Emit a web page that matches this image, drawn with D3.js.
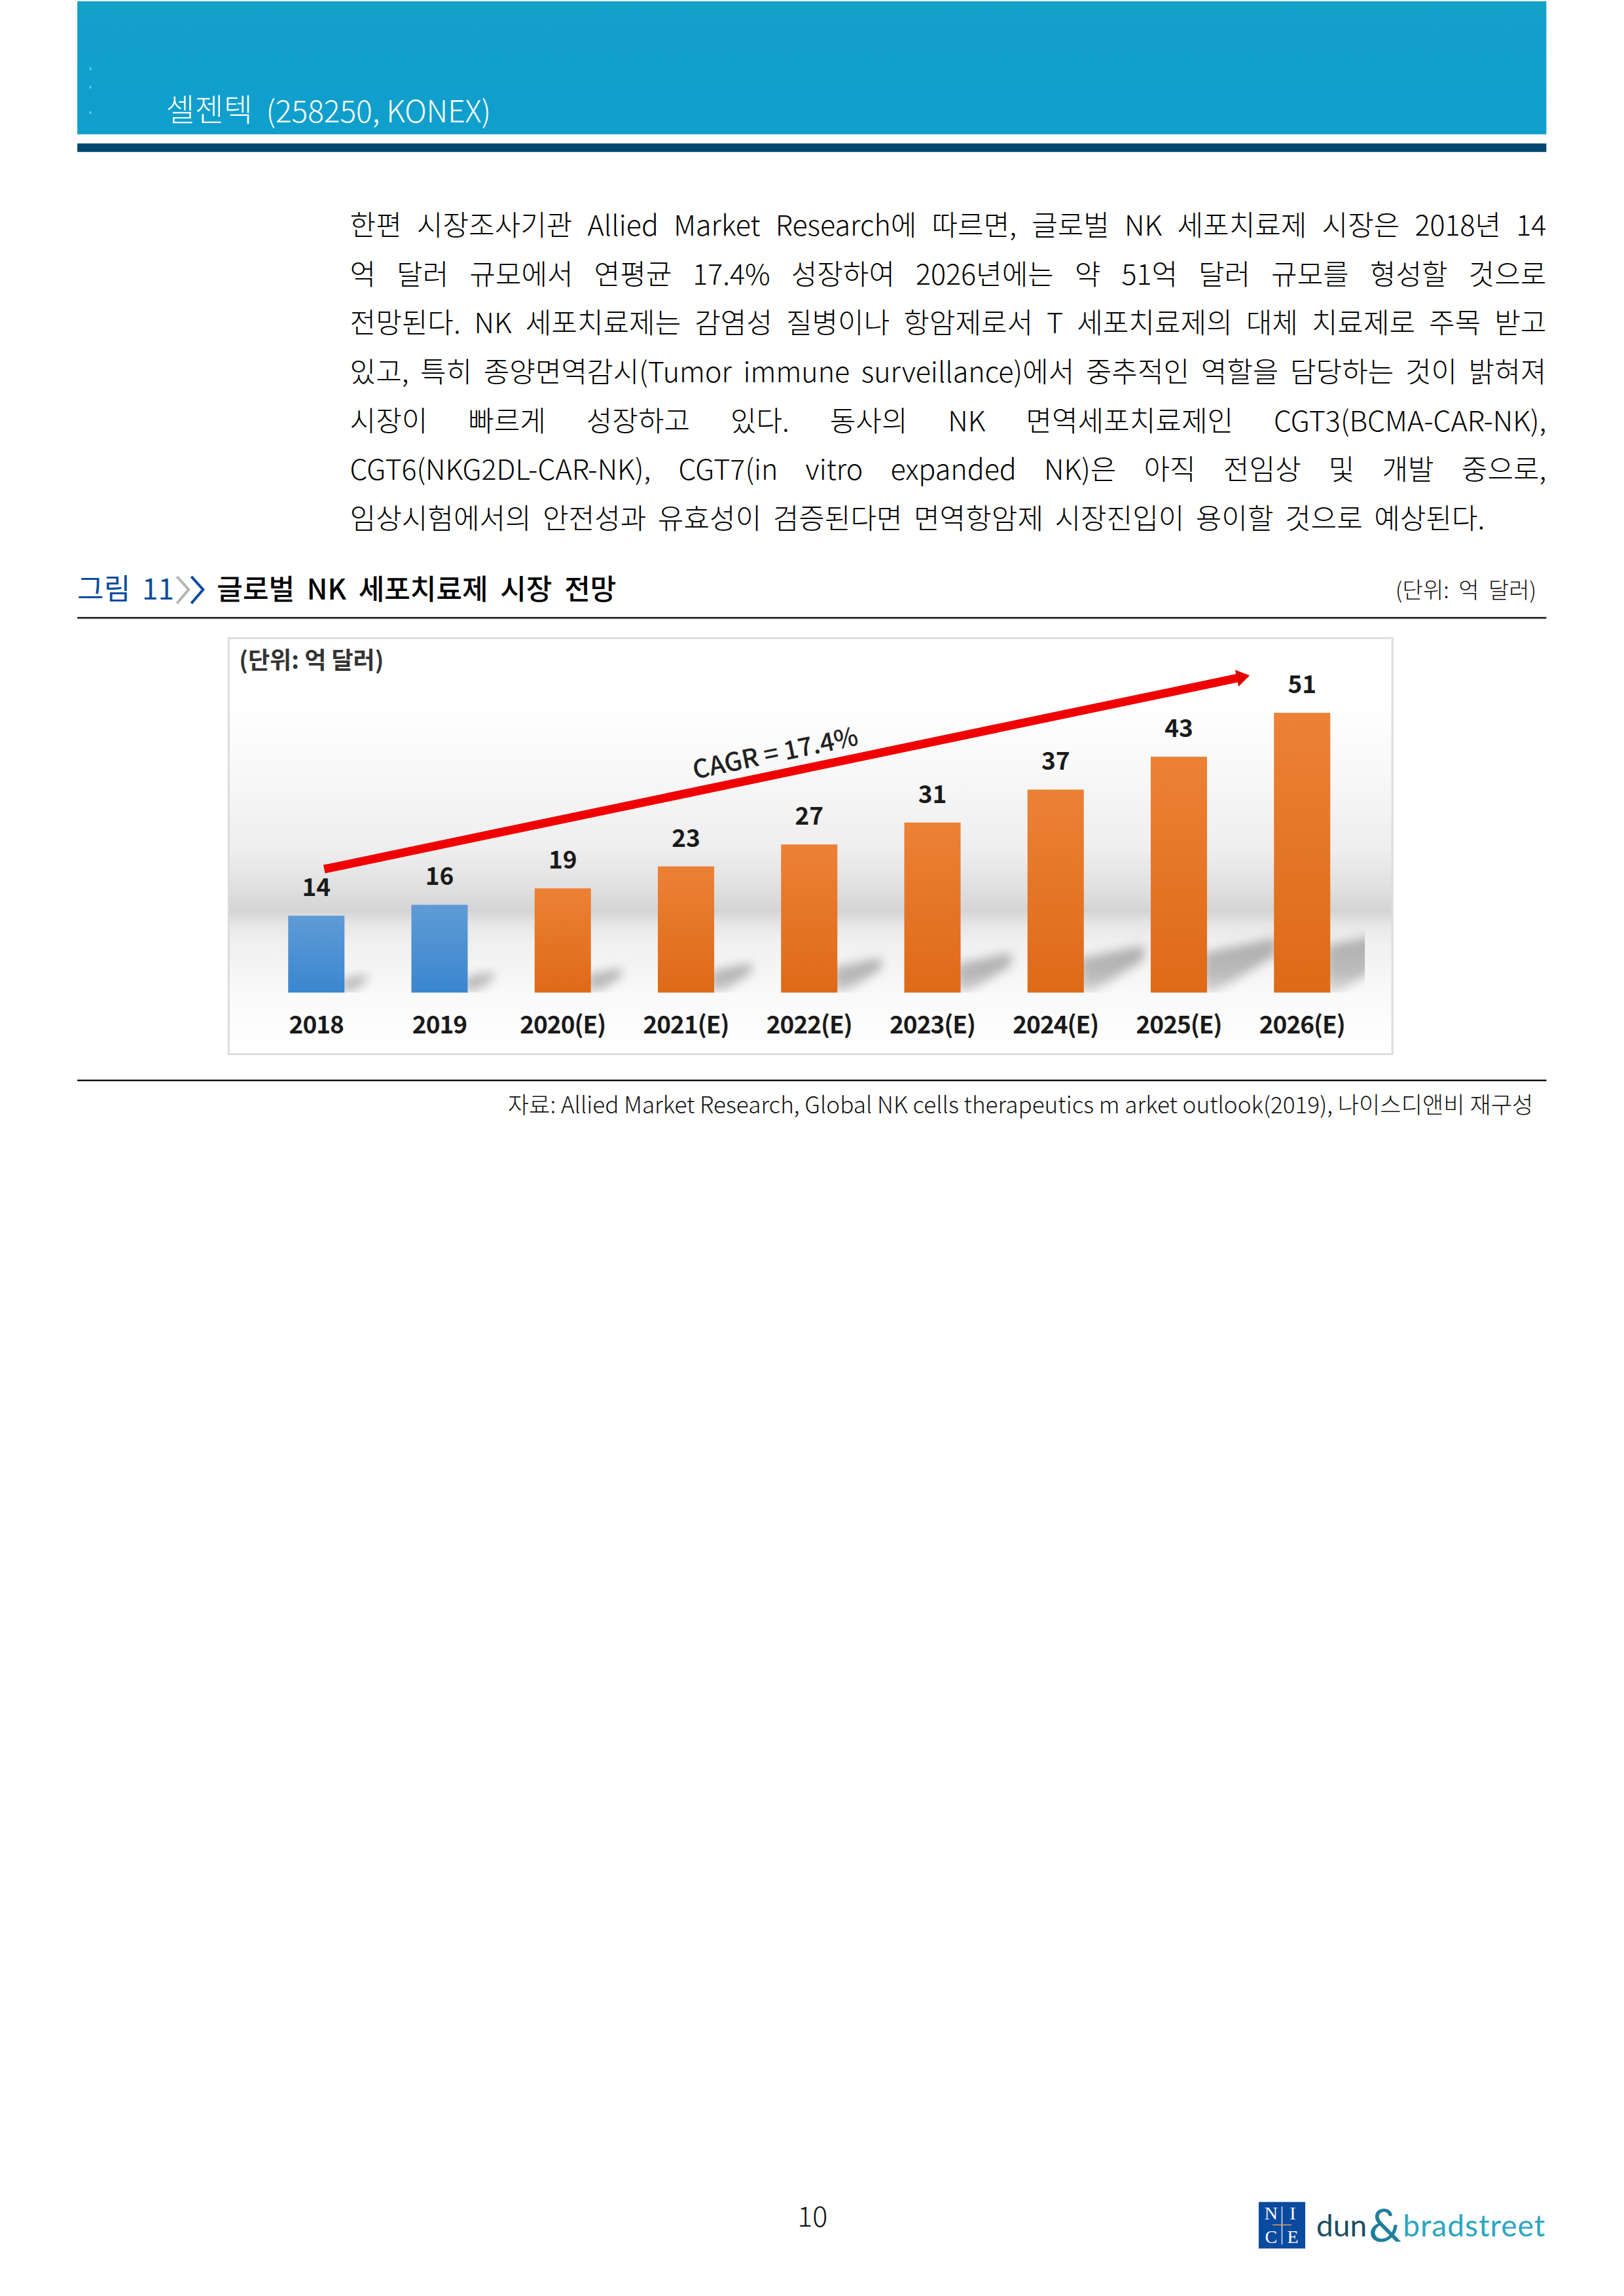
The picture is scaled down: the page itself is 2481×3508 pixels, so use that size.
<!DOCTYPE html>
<html>
<head>
    <meta charset="utf-8">
    <script src="https://d3js.org/d3.v7.min.js"></script>
    <style>
        body { margin: 0; background: #fff; }
        text { font-family: "Noto Sans CJK KR", "Noto Sans", sans-serif; }
    </style>
</head>
<body>
    <div id="chart"></div>

    <script>
        // data
        const categories = ['2018', '2019', '2020(E)', '2021(E)', '2022(E)', '2023(E)', '2024(E)', '2025(E)', '2026(E)'];
        const marketValues = [14, 16, 19, 23, 27, 31, 37, 43, 51];
        const actualYears = ['2018', '2019'];
        const cagrLabel = 'CAGR = 17.4%';
        const chartUnit = '(단위: 억 달러)';

        const bodyLines = [
            '한편 시장조사기관 Allied Market Research에 따르면, 글로벌 NK 세포치료제 시장은 2018년 14',
            '억 달러 규모에서 연평균 17.4% 성장하여 2026년에는 약 51억 달러 규모를 형성할 것으로',
            '전망된다. NK 세포치료제는 감염성 질병이나 항암제로서 T 세포치료제의 대체 치료제로 주목 받고',
            '있고, 특히 종양면역감시(Tumor immune surveillance)에서 중추적인 역할을 담당하는 것이 밝혀져',
            '시장이 빠르게 성장하고 있다. 동사의 NK 면역세포치료제인 CGT3(BCMA-CAR-NK),',
            'CGT6(NKG2DL-CAR-NK), CGT7(in vitro expanded NK)은 아직 전임상 및 개발 중으로,',
            '임상시험에서의 안전성과 유효성이 검증된다면 면역항암제 시장진입이 용이할 것으로 예상된다.'
        ];
        const figureNo = '그림 11';
        const figureTitle = '글로벌 NK 세포치료제 시장 전망';
        const sourceText = '자료: Allied Market Research, Global NK cells therapeutics m arket outlook(2019), 나이스디앤비 재구성';

        const width = 2481;
        const height = 3508;
        const pageLeft = 118;
        const pageRight = 2360;

        const svg = d3.select('#chart').append('svg')
            .attr('width', width)
            .attr('height', height)
            .attr('viewBox', '0 0 2478.5 3504.5')
            .style('display', 'block');
        const defs = svg.append('defs');

        function gradient(id, stops, x2 = 0, y2 = 1) {
            const g = defs.append('linearGradient').attr('id', id)
                .attr('x1', 0).attr('y1', 0).attr('x2', x2).attr('y2', y2);
            stops.forEach(s => g.append('stop').attr('offset', s[0]).attr('stop-color', s[1]));
        }
        gradient('headerFill', [[0, '#13a0c9'], [1, '#0f9fcd']]);
        gradient('panelFill', [[0, '#ffffff'], [0.15, '#ffffff'], [0.32, '#f8f8f8'], [0.51, '#eeeeee'], [0.6, '#e0e0e0'], [0.655, '#d4d4d4'], [0.687, '#e6e6e6'], [0.73, '#f0f0f0'], [0.85, '#f9f9f9'], [1, '#ffffff']]);
        gradient('blueFill', [[0, '#5f9bd6'], [1, '#3a86d0']]);
        gradient('orangeFill', [[0, '#ec8136'], [1, '#de6a17']]);
        gradient('shadowFill', [[0, '#aaaaaa'], [0.7, '#bcbcbc'], [1, '#dcdcdc']]);
        defs.append('filter').attr('id', 'soft').attr('x', '-30%').attr('y', '-30%').attr('width', '160%').attr('height', '160%')
            .append('feGaussianBlur').attr('stdDeviation', 8);

        // page header
        svg.append('rect').attr('x', pageLeft).attr('y', 2).attr('width', pageRight - pageLeft).attr('height', 203).attr('fill', 'url(#headerFill)');
        svg.append('rect').attr('x', pageLeft).attr('y', 219).attr('width', pageRight - pageLeft).attr('height', 13).attr('fill', '#03466f');
        [103, 131, 170].forEach(y => {
            svg.append('rect').attr('x', 137).attr('y', y).attr('width', 2).attr('height', 4).attr('fill', '#8fd4e8');
        });
        svg.append('text').attr('x', 253).attr('y', 185).attr('fill', '#fff').attr('font-size', 48).attr('font-weight', 300).text('셀젠텍');
        svg.append('text').attr('x', 406).attr('y', 187).attr('fill', '#fff').attr('font-size', 46).attr('font-weight', 300).text('(258250, KONEX)');

        // body text, stretched line by line with word spacing
        const lineEnds = [2360, 2360, 2360, 2360, 2360, 2360, 2266];
        svg.append('g').selectAll('text').data(bodyLines).enter().append('text')
            .attr('x', 534)
            .attr('y', (d, i) => 359.5 + i * 74.6)
            .attr('font-size', 43)
            .attr('font-weight', 300)
            .attr('fill', '#000')
            .text(d => d)
            .each(function(d, i) {
                const gaps = d.split(' ').length - 1;
                const extra = (lineEnds[i] - 534 - this.getComputedTextLength()) / gaps;
                d3.select(this).attr('word-spacing', extra);
            });

        // figure title
        svg.append('text').attr('x', pageLeft).attr('y', 915).attr('font-size', 44).attr('font-weight', 400).attr('fill', '#0b4c9f').attr('word-spacing', 8).text(figureNo);
        const chevron = d3.line();
        svg.append('path').attr('d', chevron([[270, 880], [288, 900], [270, 921]])).attr('fill', 'none').attr('stroke', '#b5b5b5').attr('stroke-width', 4);
        svg.append('path').attr('d', chevron([[292, 880], [310, 900], [292, 921]])).attr('fill', 'none').attr('stroke', '#0b4c9f').attr('stroke-width', 4);
        svg.append('text').attr('x', 331).attr('y', 915).attr('font-size', 43).attr('font-weight', 500).attr('fill', '#000').attr('word-spacing', 9).text(figureTitle);
        svg.append('text').attr('x', 2345).attr('y', 913).attr('text-anchor', 'end').attr('font-size', 34).attr('font-weight', 300).attr('fill', '#111').attr('word-spacing', 7).text(chartUnit);
        svg.append('line').attr('x1', pageLeft).attr('x2', pageRight).attr('y1', 943).attr('y2', 943).attr('stroke', '#111').attr('stroke-width', 2.5);

        // chart panel
        const panel = { left: 349, right: 2125, top: 974, bottom: 1609 };
        svg.append('rect')
            .attr('x', panel.left).attr('y', panel.top)
            .attr('width', panel.right - panel.left).attr('height', panel.bottom - panel.top)
            .attr('fill', 'url(#panelFill)')
            .attr('stroke', '#dcdcdc').attr('stroke-width', 3);

        // scales
        const xScale = d3.scaleBand()
            .domain(categories)
            .range([389, 2081])
            .paddingInner(0.543)
            .paddingOuter(0.27);
        const yScale = d3.scaleLinear()
            .domain([0, 51])
            .range([1515, 1088]);
        const data = categories.map((c, i) => ({ category: c, value: marketValues[i] }));

        // bar shadows, clipped where the picture in the source ends
        defs.append('clipPath').attr('id', 'shadowClip').append('rect')
            .attr('x', panel.left).attr('y', panel.top).attr('width', 2083 - panel.left).attr('height', yScale(0) - panel.top);
        svg.append('g').attr('clip-path', 'url(#shadowClip)')
            .selectAll('path').data(data).enter().append('path')
            .attr('filter', 'url(#soft)')
            .attr('fill', 'url(#shadowFill)')
            .attr('d', d => {
                const right = xScale(d.category) + xScale.bandwidth();
                const base = yScale(0);
                const dx = d.value * 2.5;
                const dy = d.value * 1.95;
                return d3.line()([[right - 6, base], [right - 6, base - dy * 0.72], [right + dx, base - dy], [right + dx * 0.98, base - dy * 0.68], [right + 10, base]]) + 'Z';
            });

        // bars
        svg.append('g').selectAll('rect').data(data).enter().append('rect')
            .attr('x', d => xScale(d.category))
            .attr('y', d => yScale(d.value))
            .attr('width', xScale.bandwidth())
            .attr('height', d => yScale(0) - yScale(d.value))
            .attr('fill', d => actualYears.includes(d.category) ? 'url(#blueFill)' : 'url(#orangeFill)');

        // value labels
        svg.append('g').selectAll('text').data(data).enter().append('text')
            .attr('x', d => xScale(d.category) + xScale.bandwidth() / 2)
            .attr('y', d => yScale(d.value) - 30)
            .attr('text-anchor', 'middle')
            .attr('font-size', 37)
            .attr('font-weight', 700)
            .attr('fill', '#1a1a1a')
            .text(d => d.value);

        // category axis
        const xAxis = svg.append('g')
            .attr('transform', 'translate(0, 1544)')
            .call(d3.axisBottom(xScale).tickSize(0).tickPadding(0));
        xAxis.select('.domain').remove();
        xAxis.selectAll('text')
            .attr('dy', '0.9em')
            .style('font-family', '"Noto Sans CJK KR"')
            .attr('font-size', 37)
            .attr('font-weight', 700)
            .attr('letter-spacing', -1)
            .attr('fill', '#1a1a1a');

        // unit label in the panel
        svg.append('text').attr('x', 365).attr('y', 1021).attr('font-size', 36).attr('font-weight', 700).attr('fill', '#333').text(chartUnit);

        // growth arrow, placed on the chart scales
        const arrowFrom = [xScale('2018') + 55, yScale(22.5)];
        const arrowTo = [xScale('2025(E)') + 151, yScale(57.8)];
        const angle = Math.atan2(arrowTo[1] - arrowFrom[1], arrowTo[0] - arrowFrom[0]);
        svg.append('line')
            .attr('x1', arrowFrom[0]).attr('y1', arrowFrom[1])
            .attr('x2', arrowTo[0] - 14 * Math.cos(angle)).attr('y2', arrowTo[1] - 14 * Math.sin(angle))
            .attr('stroke', '#f00000').attr('stroke-width', 13);
        svg.append('path')
            .attr('transform', `translate(${arrowTo[0]},${arrowTo[1]}) rotate(${angle * 180 / Math.PI})`)
            .attr('d', d3.line()([[0, 0], [-20, -13], [-20, 13]]) + 'Z')
            .attr('fill', '#e00000');
        svg.append('text')
            .attr('transform', `translate(1186, 1163) rotate(${angle * 180 / Math.PI})`)
            .attr('text-anchor', 'middle')
            .attr('font-size', 39)
            .attr('font-weight', 500)
            .attr('fill', '#222')
            .text(cagrLabel);

        // source line
        svg.append('line').attr('x1', pageLeft).attr('x2', pageRight).attr('y1', 1649).attr('y2', 1649).attr('stroke', '#111').attr('stroke-width', 2.5);
        svg.append('text').attr('x', 2340).attr('y', 1699).attr('text-anchor', 'end').attr('font-size', 35.1).attr('font-weight', 300).attr('fill', '#111').text(sourceText);

        // page footer
        svg.append('text').attr('x', 1240).attr('y', 3399).attr('text-anchor', 'middle').attr('font-size', 43).attr('font-weight', 300).attr('fill', '#111').text('10');

        // logo
        svg.append('rect').attr('x', 1921).attr('y', 3361).attr('width', 71).attr('height', 71).attr('fill', '#0a4a9f');
        svg.append('line').attr('x1', 1956.5).attr('x2', 1956.5).attr('y1', 3368).attr('y2', 3426).attr('stroke', '#e0e6f0').attr('stroke-width', 1.5);
        svg.append('line').attr('x1', 1942).attr('x2', 1971).attr('y1', 3396).attr('y2', 3396).attr('stroke', '#e8a050').attr('stroke-width', 1.5);
        [['N', 1940, 3388], ['I', 1973, 3388], ['C', 1940, 3424], ['E', 1973, 3424]].forEach(l => {
            svg.append('text').attr('x', l[1]).attr('y', l[2]).attr('text-anchor', 'middle')
                .style('font-family', '"Liberation Serif"').attr('font-size', 28).attr('fill', '#fff').text(l[0]);
        });
        svg.append('text').attr('x', 2009).attr('y', 3414).style('font-family', 'Lato').attr('font-size', 46).attr('fill', '#1d4d63').text('dun');
        svg.append('text').attr('x', 2089).attr('y', 3422).style('font-family', 'Lato').attr('font-size', 70).attr('fill', '#1f7f9c').text('&');
        svg.append('text').attr('x', 2141).attr('y', 3414).style('font-family', 'Lato').attr('font-size', 46).attr('fill', '#2ba6c0').attr('letter-spacing', 1).text('bradstreet');
    </script>
</body>
</html>
